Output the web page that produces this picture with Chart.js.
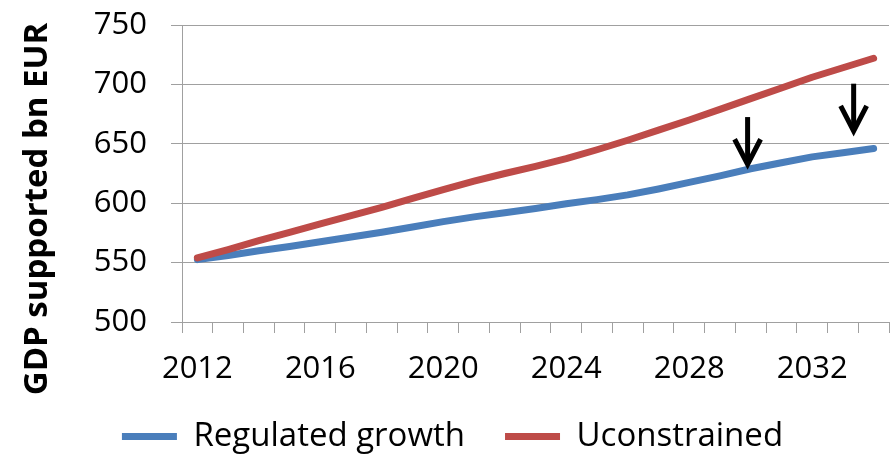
<!DOCTYPE html>
<html>
<head>
<meta charset="utf-8">
<script src="https://cdn.jsdelivr.net/npm/chart.js@4.4.1/dist/chart.umd.min.js"></script>
<style>
  html, body { margin: 0; padding: 0; background: #fff; }
</style>
</head>
<body>
<canvas id="gdpChart" width="896" height="456"></canvas>
<script>
// GDP supported, bn EUR, per year
const years = ['2012', '2013', '2014', '2015', '2016', '2017', '2018', '2019', '2020', '2021', '2022', '2023',
               '2024', '2025', '2026', '2027', '2028', '2029', '2030', '2031', '2032', '2033', '2034'];
const regulated = [552.5, 556, 560, 563.5, 567.5, 571.5, 575.5, 580, 584.5, 588.5, 592, 595.5,
                   599.5, 603, 607, 612, 617.5, 623, 629, 634, 639, 642.5, 646];
const unconstrained = [554, 561, 568.5, 575.5, 582.5, 589.5, 596.5, 604, 611.5, 618.5, 625, 631,
                       637.5, 645, 653, 661.5, 670, 679, 688, 697, 706, 714, 722];
const yTicks = { min: 500, max: 750, step: 50 };
const yTitle = 'GDP supported bn EUR';

// down arrows showing the gap between the two paths
const arrowYears = [2029.9, 2033.35];
const arrowTops = [672.5, 700.6];
const arrowTips = [632.8, 660.8];

const tickFont = { family: 'Open Sans', size: 31 };
const legendFont = { family: 'Open Sans', size: 33 };
const gridColor = '#a0a0a0';
const padLeft = 16;

const arrowPlugin = {
  id: 'gapArrows',
  afterDatasetsDraw(chart) {
    const { ctx, scales: { x, y } } = chart;
    ctx.save();
    ctx.strokeStyle = '#000';
    ctx.lineWidth = 5;
    arrowYears.forEach((yr, i) => {
      const px = x.getPixelForValue(yr - Number(years[0]));
      const top = y.getPixelForValue(arrowTops[i]);
      const tip = y.getPixelForValue(arrowTips[i]);
      ctx.beginPath();
      ctx.moveTo(px, top);
      ctx.lineTo(px, tip - 3);
      ctx.stroke();
      ctx.beginPath();
      ctx.moveTo(px - 13, tip - 25);
      ctx.lineTo(px, tip);
      ctx.lineTo(px + 13, tip - 25);
      ctx.stroke();
    });
    ctx.restore();
  }
};

// y title sits lower than the plot centre, so it is drawn by hand
const yTitlePlugin = {
  id: 'yTitle',
  afterDraw(chart) {
    const { ctx, chartArea } = chart;
    ctx.save();
    ctx.translate(47, chartArea.bottom - 113);
    ctx.rotate(-Math.PI / 2);
    ctx.font = 'bold 33px "Open Sans"';
    ctx.fillStyle = '#000';
    ctx.textAlign = 'center';
    ctx.textBaseline = 'alphabetic';
    ctx.fillText(yTitle, 0, 0);
    ctx.restore();
  }
};

// give the bottom legend a fixed height
const legendHeight = {
  id: 'legendHeight',
  beforeInit(chart) {
    const fit = chart.legend.fit;
    chart.legend.fit = function () {
      fit.call(this);
      this.height = 76;
    };
  }
};

new Chart(document.getElementById('gdpChart'), {
  type: 'line',
  data: {
    labels: years,
    datasets: [
      {
        label: 'Regulated growth',
        data: regulated,
        borderColor: '#4a7ebb',
        backgroundColor: '#4a7ebb',
        borderWidth: 7,
        borderCapStyle: 'round',
        borderJoinStyle: 'round',
        pointRadius: 0,
        tension: 0,
        order: 2
      },
      {
        label: 'Uconstrained',
        data: unconstrained,
        borderColor: '#be4b48',
        backgroundColor: '#be4b48',
        borderWidth: 7,
        borderCapStyle: 'round',
        borderJoinStyle: 'round',
        pointRadius: 0,
        tension: 0,
        order: 1
      }
    ]
  },
  options: {
    responsive: false,
    animation: false,
    devicePixelRatio: 1,
    layout: { padding: { left: padLeft, top: 25, right: 7, bottom: 0 } },
    plugins: {
      tooltip: { enabled: false },
      legend: {
        position: 'bottom',
        labels: {
          usePointStyle: true,
          pointStyle: 'line',
          pointStyleWidth: 55,
          font: legendFont,
          color: '#000',
          padding: 40,
          sort: (a, b) => a.datasetIndex - b.datasetIndex
        }
      }
    },
    scales: {
      x: {
        offset: true,
        grid: { offset: true, drawOnChartArea: false, color: gridColor, tickLength: 11 },
        border: { color: gridColor },
        ticks: {
          autoSkip: false,
          maxRotation: 0,
          color: '#000',
          font: tickFont,
          padding: 18,
          callback: function (v, i) { return i % 4 === 0 ? this.getLabelForValue(v) : ''; }
        },
        afterFit: s => { s.height = 58; s.paddingLeft = 0; s.paddingRight = 0; }
      },
      y: {
        min: yTicks.min,
        max: yTicks.max,
        ticks: { stepSize: yTicks.step, color: '#000', font: tickFont, padding: 24 },
        grid: { color: gridColor, tickLength: 11 },
        border: { color: gridColor },
        afterFit: s => { s.width = 182 - padLeft; s.paddingTop = 0; s.paddingBottom = 0; }
      }
    }
  },
  plugins: [arrowPlugin, yTitlePlugin, legendHeight]
});
</script>
</body>
</html>
